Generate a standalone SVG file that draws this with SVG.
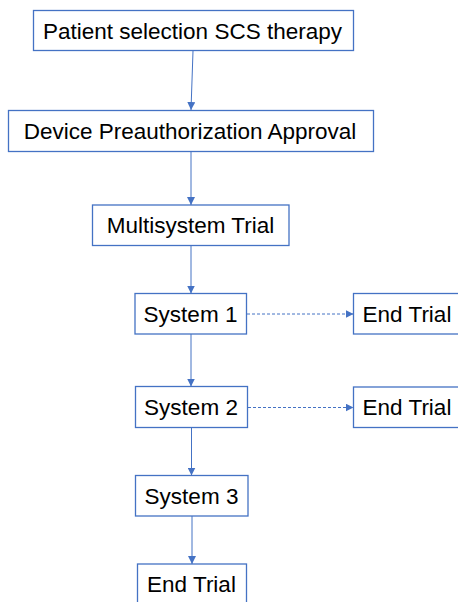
<svg xmlns="http://www.w3.org/2000/svg" width="458" height="602" viewBox="0 0 458 602">
<style>
.box{fill:#fff;stroke:#4472C4;stroke-width:1.3}
.lbl{font-family:"Liberation Sans",Arial,sans-serif;font-size:22.5px;fill:#000;text-anchor:middle}
.con{stroke:#4472C4;stroke-width:1;fill:none}
.dash{stroke-dasharray:3 2}
</style>
<defs>
<marker id="ah" viewBox="0 0 10 10" refX="10" refY="5" markerWidth="8" markerHeight="8" markerUnits="userSpaceOnUse" orient="auto">
<path d="M0,0 L10,5 L0,10 z" fill="#4472C4"/>
</marker>
</defs>
<rect width="458" height="602" fill="#fff"/>
<g id="connectors">
<line class="con" x1="193" y1="51" x2="191" y2="110" marker-end="url(#ah)"/>
<line class="con" x1="191" y1="151.5" x2="191" y2="205" marker-end="url(#ah)"/>
<line class="con" x1="191" y1="245.5" x2="191" y2="293.5" marker-end="url(#ah)"/>
<line class="con" x1="191" y1="334" x2="191" y2="386.5" marker-end="url(#ah)"/>
<line class="con" x1="191.5" y1="427.5" x2="191.5" y2="475.5" marker-end="url(#ah)"/>
<line class="con" x1="192" y1="516" x2="192" y2="564" marker-end="url(#ah)"/>
<line class="con dash" x1="247" y1="314" x2="353.5" y2="314" marker-end="url(#ah)"/>
<line class="con dash" x1="248" y1="407.5" x2="353.5" y2="407.5" marker-end="url(#ah)"/>
</g>
<g id="n1"><rect class="box" x="33.5" y="10.5" width="320" height="40"/><text class="lbl" x="192.5" y="38.5">Patient selection SCS therapy</text></g>
<g id="n2"><rect class="box" x="8.5" y="110.5" width="365" height="41"/><text class="lbl" x="190" y="139">Device Preauthorization Approval</text></g>
<g id="n3"><rect class="box" x="92.5" y="205" width="196.5" height="40.5"/><text class="lbl" x="190.5" y="233">Multisystem Trial</text></g>
<g id="n4"><rect class="box" x="135" y="293.5" width="111.5" height="40.5"/><text class="lbl" x="190.5" y="321.5">System 1</text></g>
<g id="n5"><rect class="box" x="353.5" y="293.5" width="112" height="40.5"/><text class="lbl" x="407" y="321.5">End Trial</text></g>
<g id="n6"><rect class="box" x="135.5" y="386.5" width="112" height="41"/><text class="lbl" x="191" y="415">System 2</text></g>
<g id="n7"><rect class="box" x="353.5" y="387" width="112" height="40.5"/><text class="lbl" x="407" y="415">End Trial</text></g>
<g id="n8"><rect class="box" x="135.5" y="475.5" width="112.5" height="40.5"/><text class="lbl" x="191.5" y="503.5">System 3</text></g>
<g id="n9"><rect class="box" x="137.5" y="564" width="109" height="45"/><text class="lbl" x="191.5" y="592">End Trial</text></g>
</svg>
